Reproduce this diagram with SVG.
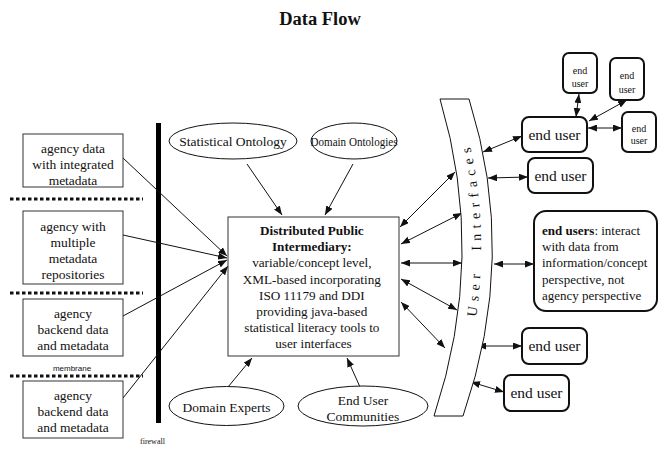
<svg xmlns="http://www.w3.org/2000/svg" width="660" height="451" viewBox="0 0 660 451" font-family="'Liberation Serif', 'Times New Roman', serif">
  <style>
    .t { font-family: "Liberation Serif", "Times New Roman", serif; fill: #111; }
    .c { text-anchor: middle; }
    .box { fill: #fff; stroke: #333; stroke-width: 1; }
    .ell { fill: #fff; stroke: #111; stroke-width: 1; }
    .usr { fill: #fff; stroke: #111; stroke-width: 2; }
    .ln { stroke: #111; stroke-width: 1; fill: none; }
    .one { marker-end: url(#ah); }
    .two { marker-start: url(#ah); marker-end: url(#ah); }
    .dots { stroke: #111; stroke-width: 3; stroke-dasharray: 3.5 2.5; }
  </style>
  <defs>
    <marker id="ah" viewBox="0 0 9 7" refX="9" refY="3.5" markerWidth="9" markerHeight="7" markerUnits="userSpaceOnUse" orient="auto-start-reverse">
      <path d="M0,0 L9,3.5 L0,7 z" fill="#111"/>
    </marker>
    <path id="uiPath" d="M452,416 Q507,256.5 458,99"/>
  </defs>

  <rect width="660" height="451" fill="#fff"/>

  <text class="t c" x="320" y="25" font-size="18.5" font-weight="bold">Data Flow</text>

  <!-- firewall and membrane separators -->
  <g id="firewall">
    <line x1="158.5" y1="123" x2="158.5" y2="423" stroke="#000" stroke-width="5"/>
    <text class="t" x="140" y="444" font-size="8">firewall</text>
  </g>
  <g id="separators">
    <line class="dots" x1="10" y1="199" x2="143" y2="199"/>
    <line class="dots" x1="10" y1="293" x2="143" y2="293"/>
    <line class="dots" x1="10" y1="376" x2="143" y2="376"/>
    <text x="72" y="371" font-size="8" text-anchor="middle" font-family="'Liberation Sans', Arial, sans-serif" fill="#111">membrane</text>
  </g>

  <!-- connectors -->
  <g id="connectors">
    <line class="ln one" x1="123" y1="158" x2="227" y2="256"/>
    <line class="ln one" x1="123" y1="235" x2="227" y2="258"/>
    <line class="ln one" x1="123" y1="316" x2="227" y2="260"/>
    <line class="ln one" x1="123" y1="398" x2="228" y2="266"/>
    <line class="ln one" x1="247" y1="164" x2="282" y2="215"/>
    <line class="ln one" x1="353" y1="164" x2="325" y2="215"/>
    <line class="ln one" x1="228" y1="387" x2="252" y2="358"/>
    <line class="ln one" x1="360" y1="387" x2="347" y2="358"/>
    <line class="ln two" x1="400" y1="227" x2="455" y2="172"/>
    <line class="ln two" x1="401" y1="244" x2="462" y2="213"/>
    <line class="ln two" x1="401" y1="263" x2="462" y2="263"/>
    <line class="ln two" x1="401" y1="279" x2="457" y2="310"/>
    <line class="ln two" x1="401" y1="302" x2="445" y2="348"/>
    <line class="ln two" x1="483" y1="152" x2="522" y2="136"/>
    <line class="ln two" x1="488" y1="178" x2="528" y2="177"/>
    <line class="ln two" x1="494" y1="264" x2="534" y2="264"/>
    <line class="ln two" x1="477" y1="346" x2="522" y2="346"/>
    <line class="ln two" x1="471" y1="382" x2="504" y2="392"/>
    <line class="ln two" x1="579" y1="94" x2="576" y2="117"/>
    <line class="ln two" x1="627" y1="100" x2="589" y2="121"/>
    <line class="ln two" x1="588" y1="128" x2="622" y2="128"/>
  </g>

  <!-- agency boxes -->
  <g id="agency1">
    <rect class="box" x="23" y="134" width="100" height="53"/>
    <text class="t c" font-size="13.5"><tspan x="73" y="153">agency data</tspan><tspan x="73" y="169">with integrated</tspan><tspan x="73" y="185">metadata</tspan></text>
  </g>
  <g id="agency2">
    <rect class="box" x="23" y="211" width="100" height="73"/>
    <text class="t c" font-size="13.5"><tspan x="73" y="231">agency with</tspan><tspan x="73" y="247">multiple</tspan><tspan x="73" y="263">metadata</tspan><tspan x="73" y="279">repositories</tspan></text>
  </g>
  <g id="agency3">
    <rect class="box" x="23" y="299" width="100" height="57"/>
    <text class="t c" font-size="13.5"><tspan x="73" y="318">agency</tspan><tspan x="73" y="334">backend data</tspan><tspan x="73" y="350">and metadata</tspan></text>
  </g>
  <g id="agency4">
    <rect class="box" x="23" y="381" width="100" height="57"/>
    <text class="t c" font-size="13.5"><tspan x="73" y="400">agency</tspan><tspan x="73" y="416">backend data</tspan><tspan x="73" y="432">and metadata</tspan></text>
  </g>

  <!-- ontologies and communities -->
  <g id="statOntology">
    <ellipse class="ell" cx="233" cy="141" rx="64" ry="18"/>
    <text class="t c" x="233" y="145.5" font-size="13.5">Statistical Ontology</text>
  </g>
  <g id="domainOntologies">
    <ellipse class="ell" cx="354" cy="141" rx="43" ry="18"/>
    <text class="t c" x="354" y="145.5" font-size="13.5" textLength="87" lengthAdjust="spacingAndGlyphs">Domain Ontologies</text>
  </g>
  <g id="domainExperts">
    <ellipse class="ell" cx="226.5" cy="406" rx="57.5" ry="19.5"/>
    <text class="t c" x="226.5" y="412" font-size="13.5">Domain Experts</text>
  </g>
  <g id="endUserCommunities">
    <ellipse class="ell" cx="363" cy="406" rx="65" ry="20"/>
    <text class="t c" font-size="13.5"><tspan x="363" y="405">End User</tspan><tspan x="363" y="421">Communities</tspan></text>
  </g>

  <!-- intermediary -->
  <g id="intermediary">
    <rect class="box" x="228" y="217" width="171" height="139"/>
    <text class="t c" font-size="13.2">
      <tspan x="313.5" y="235" font-weight="bold">Distributed Public</tspan>
      <tspan x="313.5" y="251.2" font-weight="bold">Intermediary:</tspan>
      <tspan x="313.5" y="267.4">variable/concept level,</tspan>
      <tspan x="313.5" y="283.6">XML-based incorporating</tspan>
      <tspan x="313.5" y="299.8">ISO 11179 and DDI</tspan>
      <tspan x="313.5" y="316">providing java-based</tspan>
      <tspan x="313.5" y="332.2">statistical literacy tools to</tspan>
      <tspan x="313.5" y="348.4">user interfaces</tspan>
    </text>
  </g>

  <!-- user interfaces band -->
  <g id="userInterfaces">
    <path d="M440,99 L469,99 Q518.5,256.5 463,416 L434,416 Q487,256.5 440,99 z" fill="#fff" stroke="#111" stroke-width="1"/>
    <text class="t" font-size="14" letter-spacing="5.5"><textPath href="#uiPath" startOffset="59%" text-anchor="middle">User&#160;&#160;Interfaces</textPath></text>
  </g>

  <!-- end users -->
  <g id="endUserMain">
    <rect class="usr" x="522" y="117" width="65" height="35" rx="7"/>
    <text class="t c" x="554.5" y="139.5" font-size="15.5">end user</text>
  </g>
  <g id="endUser2">
    <rect class="usr" x="528" y="158" width="65" height="35" rx="7"/>
    <text class="t c" x="560.5" y="180.5" font-size="15.5">end user</text>
  </g>
  <g id="endUserSmall1">
    <rect class="usr" x="563" y="53" width="34" height="40" rx="6"/>
    <text class="t c" font-size="10"><tspan x="580" y="73.5">end</tspan><tspan x="580" y="86.5">user</tspan></text>
  </g>
  <g id="endUserSmall2">
    <rect class="usr" x="610" y="58" width="34" height="42" rx="6"/>
    <text class="t c" font-size="10"><tspan x="627" y="78.5">end</tspan><tspan x="627" y="92.5">user</tspan></text>
  </g>
  <g id="endUserSmall3">
    <rect class="usr" x="622" y="112" width="34" height="40" rx="6"/>
    <text class="t c" font-size="10"><tspan x="639" y="131.5">end</tspan><tspan x="639" y="143.5">user</tspan></text>
  </g>
  <g id="endUsersNote">
    <rect class="usr" x="534" y="211" width="123" height="100" rx="12"/>
    <text class="t" font-size="13">
      <tspan x="542" y="234.5"><tspan font-weight="bold">end users</tspan>: interact</tspan>
      <tspan x="542" y="250.8">with data from</tspan>
      <tspan x="542" y="267.4">information/concept</tspan>
      <tspan x="542" y="283.8">perspective, not</tspan>
      <tspan x="542" y="300.4">agency perspective</tspan>
    </text>
  </g>
  <g id="endUser3">
    <rect class="usr" x="522" y="328" width="65" height="36" rx="7"/>
    <text class="t c" x="554.5" y="351" font-size="15.5">end user</text>
  </g>
  <g id="endUser4">
    <rect class="usr" x="504" y="375" width="65" height="36" rx="7"/>
    <text class="t c" x="536.5" y="398" font-size="15.5">end user</text>
  </g>
</svg>
